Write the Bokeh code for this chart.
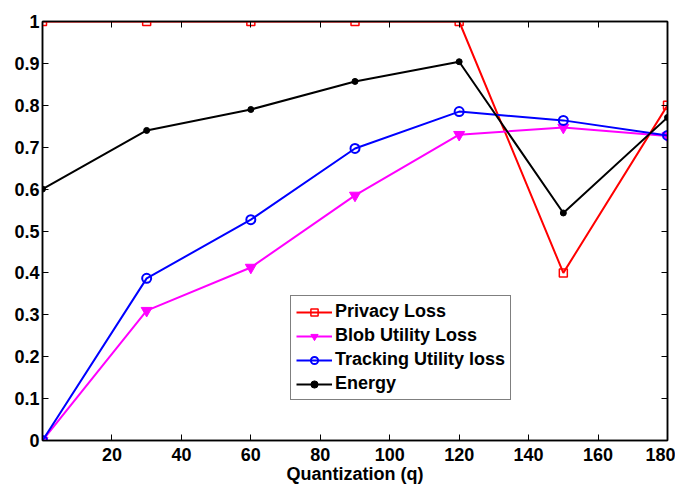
from bokeh.plotting import figure
from bokeh.models import LinearAxis, FixedTicker, Range1d, Legend, LegendItem
from bokeh.embed import file_html
from bokeh.resources import INLINE

q = [0, 30, 60, 90, 120, 150, 180]
privacy_loss = [1.0, 1.0, 1.0, 1.0, 1.0, 0.4, 0.8]
blob_utility_loss = [0.0, 0.31, 0.413, 0.585, 0.73, 0.747, 0.727]
tracking_utility_loss = [0.0, 0.387, 0.527, 0.697, 0.785, 0.764, 0.728]
energy = [0.6, 0.74, 0.79, 0.857, 0.904, 0.543, 0.771]

x_ticks = [20, 40, 60, 80, 100, 120, 140, 160, 180]
y_ticks = [0, 0.1, 0.2, 0.3, 0.4, 0.5, 0.6, 0.7, 0.8, 0.9, 1.0]
y_labels = {0: "0", 0.1: "0.1", 0.2: "0.2", 0.3: "0.3", 0.4: "0.4", 0.5: "0.5",
            0.6: "0.6", 0.7: "0.7", 0.8: "0.8", 0.9: "0.9", 1.0: "1"}

FONT = "Liberation Sans"

p = figure(width=675, height=486, output_backend="svg", toolbar_location=None,
           x_range=Range1d(0, 180), y_range=Range1d(0, 1),
           min_border_left=42, min_border_right=8, min_border_top=21, min_border_bottom=46)
p.xgrid.visible = False
p.ygrid.visible = False
p.outline_line_color = "black"
p.outline_line_width = 1.5
p.background_fill_color = "white"
p.border_fill_color = "white"

def style_axis(ax):
    ax.major_tick_in = 6
    ax.major_tick_out = 0
    ax.minor_tick_in = 0
    ax.minor_tick_out = 0
    ax.axis_line_color = "black"
    ax.axis_line_width = 1.5
    ax.major_tick_line_color = "black"
    ax.major_label_text_font = FONT
    ax.major_label_text_font_style = "bold"
    ax.major_label_text_font_size = "18px"
    ax.major_label_text_color = "black"

xa = p.xaxis[0]
xa.ticker = FixedTicker(ticks=x_ticks)
style_axis(xa)
xa.major_label_standoff = 7
xa.axis_label = "Quantization (q)"
xa.axis_label_text_font = FONT
xa.axis_label_text_font_style = "bold"
xa.axis_label_text_font_size = "18px"
xa.axis_label_text_color = "black"
xa.axis_label_standoff = 0

ya = p.yaxis[0]
ya.ticker = FixedTicker(ticks=y_ticks)
ya.major_label_overrides = y_labels
style_axis(ya)
ya.major_label_standoff = 3

top = LinearAxis(ticker=FixedTicker(ticks=x_ticks))
style_axis(top)
top.major_label_overrides = {t: "" for t in x_ticks}
p.add_layout(top, "above")
right = LinearAxis(ticker=FixedTicker(ticks=y_ticks))
style_axis(right)
right.major_label_overrides = {t: "" for t in y_ticks}
p.add_layout(right, "right")

r1 = p.line(q, privacy_loss, line_color="#FF0000", line_width=2)
m1 = p.scatter(q, privacy_loss, marker="square", size=8, line_color="#FF0000",
               fill_color="white", fill_alpha=0.0, line_width=1.5)
r2 = p.line(q, blob_utility_loss, line_color="#FF00FF", line_width=2)
m2 = p.scatter(q, blob_utility_loss, marker="inverted_triangle", size=11,
               line_color="#FF00FF", fill_color="#FF00FF", line_width=1)
r3 = p.line(q, tracking_utility_loss, line_color="#0000FF", line_width=2)
m3 = p.scatter(q, tracking_utility_loss, marker="circle", size=9, line_color="#0000FF",
               fill_alpha=0.0, line_width=2)
r4 = p.line(q, energy, line_color="black", line_width=2)
m4 = p.scatter(q, energy, marker="circle", size=6, line_color="black", fill_color="black")

legend = Legend(items=[
    LegendItem(label="Privacy Loss", renderers=[r1, m1]),
    LegendItem(label="Blob Utility Loss", renderers=[r2, m2]),
    LegendItem(label="Tracking Utility loss", renderers=[r3, m3]),
    LegendItem(label="Energy", renderers=[r4, m4]),
], location=(248, 40))
legend.label_text_font = FONT
legend.label_text_font_style = "bold"
legend.label_text_font_size = "18px"
legend.label_text_color = "black"
legend.label_standoff = 3
legend.glyph_width = 36
legend.glyph_height = 18
legend.label_height = 18
legend.spacing = 3
legend.padding = 5
legend.margin = 0
legend.border_line_color = "black"
legend.border_line_width = 1
legend.background_fill_color = "white"
legend.background_fill_alpha = 1.0
p.add_layout(legend, "center")

open("out.html", "w").write(file_html(p, INLINE))
